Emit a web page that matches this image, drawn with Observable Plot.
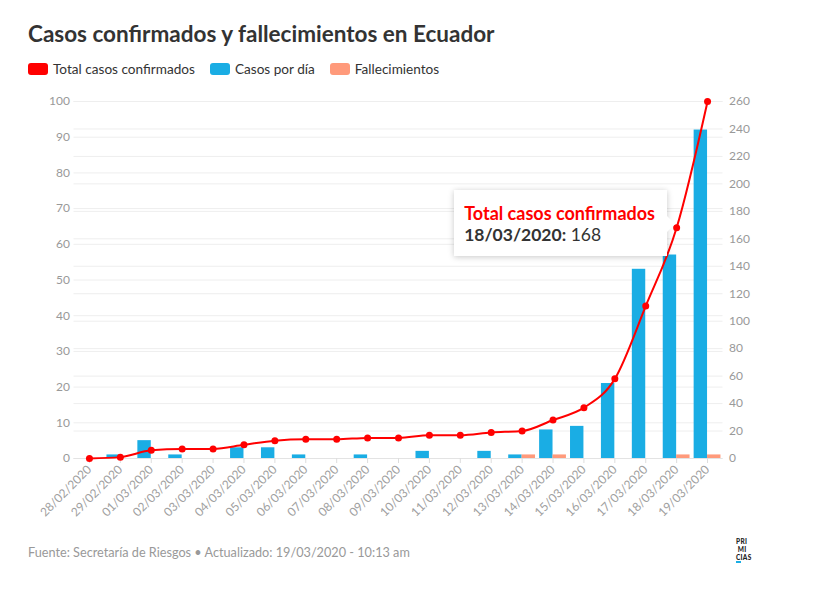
<!DOCTYPE html>
<html>
<head>
<meta charset="utf-8">
<script src="https://cdn.jsdelivr.net/npm/d3@7"></script>
<script src="https://cdn.jsdelivr.net/npm/@observablehq/plot@0.6"></script>
<style>
  body { margin: 0; background: #fff; font-family: Lato, "Open Sans", sans-serif; }
  #wrap { position: relative; width: 837px; height: 597px; overflow: hidden; }
  #title { position: absolute; left: 28px; top: 20px; font-size: 22.5px; font-weight: 700; color: #333; white-space: nowrap; }
  #legend { position: absolute; left: 28px; top: 61px; font-size: 13.6px; color: #333; display: flex; white-space: nowrap; }
  #legend .item { display: flex; align-items: center; margin-right: 15px; }
  #legend .sw { width: 20px; height: 12px; border-radius: 3px; margin-right: 5px; }
  #chart { position: absolute; left: 0; top: 85px; }
  #footer { position: absolute; left: 28px; top: 544px; font-size: 12.7px; color: #999; white-space: nowrap; }
  #logo { position: absolute; left: 736px; top: 538px; font-size: 6.5px; font-weight: 900; line-height: 8px; color: #222; letter-spacing: 0.3px; }
  #logo .u { display: inline-block; border-bottom: 2px solid #1aade4; line-height: 7px; }
  #tip { position: absolute; background: #fff; box-shadow: 0 1px 6px rgba(0,0,0,0.22); padding: 12px 12px 10px 10px; white-space: nowrap; }
  #tip::after { content: ""; position: absolute; right: -8px; top: 26px; border-top: 8px solid transparent; border-bottom: 8px solid transparent; border-left: 8px solid #fff; }
  #tip .h { color: #f00; font-weight: 700; font-size: 18px; line-height: 22px; }
  #tip .v { color: #333; font-size: 17.5px; line-height: 22px; }
</style>
</head>
<body>
<div id="wrap">
  <div id="title">Casos confirmados y fallecimientos en Ecuador</div>
  <div id="legend"></div>
  <div id="chart"></div>
  <div id="tip"></div>
  <div id="footer">Fuente: Secretaría de Riesgos • Actualizado: 19/03/2020 - 10:13 am</div>
  <div id="logo">PRI<br>&nbsp;MI<br><span class="u">C</span>IAS</div>
</div>
<script>
const dates = ["28/02/2020","29/02/2020","01/03/2020","02/03/2020","03/03/2020","04/03/2020","05/03/2020","06/03/2020","07/03/2020","08/03/2020","09/03/2020","10/03/2020","11/03/2020","12/03/2020","13/03/2020","14/03/2020","15/03/2020","16/03/2020","17/03/2020","18/03/2020","19/03/2020"];
const totalCasos = [0,1,6,7,7,10,13,14,14,15,15,17,17,19,20,28,37,58,111,168,260];
const casosPorDia = [0,1,5,1,0,3,3,1,0,1,0,2,0,2,1,8,9,21,53,57,92];
const fallecimientos = [0,0,0,0,0,0,0,0,0,0,0,0,0,0,1,1,0,0,0,1,1];
const leftTicks = [0,10,20,30,40,50,60,70,80,90,100];
const rightTicks = [0,20,40,60,80,100,120,140,160,180,200,220,240,260];
const seriesNames = ["Total casos confirmados","Casos por día","Fallecimientos"];
const seriesColors = ["#ff0000","#1aade4","#ff9a7b"];
const tipDate = "18/03/2020";

const k = 100 / 260;
const data = dates.map((d, i) => ({date: d, total: totalCasos[i], casos: casosPorDia[i], muertes: fallecimientos[i]}));

// legend
const leg = document.getElementById("legend");
seriesNames.forEach((n, i) => {
  const it = document.createElement("div"); it.className = "item";
  it.innerHTML = `<span class="sw" style="background:${seriesColors[i]}"></span><span>${n}</span>`;
  leg.appendChild(it);
});

const W = 837, H = 450, mL = 73.5, mR = 114.5, mT = 16, mB = 77;
const pIn = 0.1, pOut = 0.05;
const step = (W - mL - mR) / (dates.length - pIn + 2 * pOut);
const half = step * (1 - pIn) / 2;
const font = "Lato, 'Open Sans', sans-serif";

const plot = Plot.plot({
  width: W, height: H,
  marginLeft: mL, marginRight: mR, marginTop: mT, marginBottom: mB,
  style: {fontFamily: font, fontSize: "12px", background: "transparent"},
  x: {domain: dates, paddingInner: pIn, paddingOuter: pOut, round: false, axis: null},
  y: {domain: [0, 100], axis: null},
  marks: [
    Plot.ruleY(leftTicks, {stroke: "#eeeeee"}),
    Plot.ruleY(rightTicks.map(v => v * k), {stroke: "#eeeeee"}),
    Plot.ruleY([0], {stroke: "#e3e3e3"}),
    Plot.axisY(leftTicks, {anchor: "left", tickSize: 0, tickPadding: 4, color: "#999", fontSize: 12, label: null}),
    Plot.axisY(rightTicks.map(v => v * k), {anchor: "right", tickSize: 0, tickPadding: 6, color: "#999", fontSize: 12, label: null, tickFormat: d => Math.round(d / k)}),
    Plot.axisX({tickSize: 5, tickFormat: () => "", color: "#dddddd", label: null}),
    Plot.axisX({tickSize: 0, tickPadding: 9, tickRotate: -45, color: "#a0a0a0", fontSize: 12, label: null}),
    Plot.barY(data, {x: "date", y: "casos", fill: seriesColors[1], insetLeft: 0.5, insetRight: half}),
    Plot.barY(data, {x: "date", y: "muertes", fill: seriesColors[2], insetLeft: half, insetRight: 0.5}),
    Plot.line(data, {x: "date", y: d => d.total * k, stroke: seriesColors[0], strokeWidth: 2, curve: "monotone-x"}),
    Plot.dot(data, {x: "date", y: d => d.total * k, fill: seriesColors[0], r: 3.5})
  ]
});
document.getElementById("chart").appendChild(plot);

// tooltip positioned from the scales
const xs = plot.scale("x"), ys = plot.scale("y");
const tipRow = data.find(d => d.date === tipDate);
const px = xs.apply(tipDate) + xs.bandwidth / 2;
const py = ys.apply(tipRow.total * k) + 85;
const tip = document.getElementById("tip");
tip.innerHTML = `<div class="h">${seriesNames[0]}</div><div class="v"><b>${tipDate}:</b> ${tipRow.total}</div>`;
const tw = tip.offsetWidth;
tip.style.left = (px - 9 - tw) + "px";
tip.style.top = (py - 37) + "px";
</script>
</body>
</html>
